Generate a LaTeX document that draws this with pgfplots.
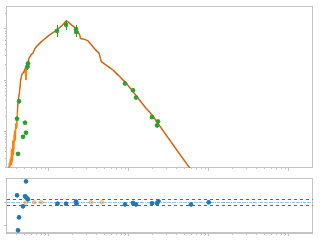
\documentclass[border=0pt]{standalone}
\usepackage{pgfplots}
\pgfplotsset{compat=1.18}
\usepackage{pgfplotstable}
\definecolor{C0}{HTML}{1F77B4}
\definecolor{C1}{HTML}{FF7F0E}
\definecolor{C2}{HTML}{2CA02C}
\definecolor{C5}{HTML}{8C564B}
\definecolor{spine}{HTML}{C4C4C4}

\pgfplotstableread{
lx ly
2.5000 -0.765
2.5100 -0.620
2.5125 -0.700
2.5213 -0.529
2.5250 -0.650
2.5288 -0.608
2.5350 -0.380
2.5413 -0.406
2.5450 -0.560
2.5500 -0.529
2.5538 -0.176
2.5580 -0.450
2.5625 -0.373
2.5690 -0.080
2.5750 0.020
2.5813 -0.176
2.5913 0.157
2.6000 0.059
2.6088 0.378
2.6163 0.543
2.6250 0.667
2.6375 0.804
2.6463 0.961
2.6563 1.059
2.6663 1.118
2.6788 1.137
2.6938 1.177
2.7038 1.216
2.7125 1.098
2.7163 1.000
2.7213 1.255
2.7375 1.314
2.7538 1.426
2.7838 1.504
2.8000 1.520
2.8125 1.555
2.8250 1.608
2.8463 1.653
2.9088 1.751
2.9500 1.804
3.0125 1.882
3.0963 1.971
3.1625 2.059
3.2213 2.157
3.2838 2.078
3.3375 2.014
3.3663 1.941
3.3875 1.882
3.3963 1.814
3.4125 1.804
3.4500 1.794
3.4913 1.765
3.5338 1.686
3.5750 1.608
3.6288 1.524
3.6588 1.359
3.7250 1.284
3.8038 1.196
3.8875 1.069
3.9713 0.935
4.0500 0.784
4.1375 0.608
4.2125 0.461
4.2963 0.314
4.3875 0.108
4.5125 -0.167
4.6375 -0.441
4.7625 -0.712
}\model

\pgfplotstableread{
lx ly
2.6088 0.378
2.6163 0.543
2.6250 0.667
2.6375 0.804
2.6463 0.961
2.6563 1.059
2.6663 1.118
2.6788 1.137
2.6938 1.177
2.7038 1.216
2.7213 1.255
2.7375 1.314
2.7538 1.426
2.7838 1.504
2.8000 1.520
2.8125 1.555
2.8250 1.608
2.8463 1.653
2.9088 1.751
2.9500 1.804
3.0125 1.882
3.0963 1.971
3.1625 2.059
3.2213 2.157
3.2838 2.078
3.3375 2.014
3.3663 1.941
3.3875 1.882
3.3963 1.814
3.4125 1.804
3.4500 1.794
3.4913 1.765
3.5338 1.686
3.5750 1.608
3.6288 1.524
3.6588 1.359
3.7250 1.284
3.8038 1.196
3.8875 1.069
3.9713 0.935
4.0500 0.784
4.1375 0.608
4.2125 0.461
4.2963 0.314
4.3875 0.108
4.5125 -0.167
4.6375 -0.441
4.7625 -0.712
}\smooth

\pgfplotstableread{
lx ly ey
2.6038 0.249 0.03
2.6163 -0.437 0.03
2.6288 0.588 0.03
2.6788 -0.104 0.03
2.7038 0.171 0.03
2.7163 -0.025 0.03
2.7338 1.261 0.06
2.7413 1.327 0.06
3.1038 1.961 0.12
3.2163 2.078 0.10
3.3413 1.994 0.09
3.3463 1.935 0.09
3.9538 0.935 0.02
4.0538 0.804 0.02
4.0913 0.661 0.02
4.2913 0.280 0.02
4.3538 0.118 0.02
4.3663 0.196 0.02
}\obs

\pgfplotstableread{
lx r
2.6038 0.30
2.7163 0.89
2.7038 0.26
2.7213 0.20
2.7413 0.13
2.6788 -0.17
2.6288 -0.64
2.6163 -1.19
3.1088 -0.06
3.2163 -0.06
3.3413 0.03
3.3463 -0.06
3.9538 -0.09
4.0538 -0.03
4.0913 -0.09
4.2913 -0.04
4.3538 -0.04
4.3713 0.04
4.7788 -0.09
5.0000 0.00
}\resid

\pgfplotstableread{
lx r
2.7163 0
2.8163 0
2.9038 0
3.5288 0
3.6663 0
}\lim

\begin{document}
\begin{tikzpicture}
\path[use as bounding box] (0,0) rectangle (320bp,240bp);
\pgfplotsset{
  myax/.style={
    scale only axis, width=306bp,
    xmin=2.475, xmax=6.3,
    axis line style={spine, line width=1.3bp},
    tick align=outside,
    major tick length=3bp, minor tick length=1.6bp,
    tick style={spine, line width=0.8bp},
    xtick pos=left, ytick pos=left,
    xticklabels={}, yticklabels={},
    xtick={3,4,5,6},
    minor xtick={2.602,2.699,2.778,2.845,2.903,2.954,
      3.301,3.477,3.602,3.699,3.778,3.845,3.903,3.954,
      4.301,4.477,4.602,4.699,4.778,4.845,4.903,4.954,
      5.301,5.477,5.602,5.699,5.778,5.845,5.903,5.954},
  }
}
\begin{axis}[myax, at={(6.7bp,72.3bp)}, anchor=south west, height=161bp,
  ymin=-0.706, ymax=2.431,
  ytick={0,1,2},
  minor ytick={-0.699,-0.523,-0.398,-0.301,-0.222,-0.155,-0.097,-0.046,
    0.301,0.477,0.602,0.699,0.778,0.845,0.903,0.954,
    1.301,1.477,1.602,1.699,1.778,1.845,1.903,1.954,2.301},
]
\addplot[C1, line width=1.5bp, no marks] table[x=lx, y=ly] {\model};
\addplot[C5, opacity=0.85, line width=0.45bp, no marks] table[x=lx, y=ly] {\smooth};
\addplot[C2, only marks, mark=*, mark size=2.1bp,
  error bars/.cd, y dir=both, y explicit,
  error bar style={color=C2, line width=0.9bp}, error mark=none]
  table[x=lx, y=ly, y error=ey] {\obs};
\end{axis}
\begin{axis}[myax, at={(6.7bp,7bp)}, anchor=south west, height=54.3bp,
  ymin=-1.306, ymax=1.004,
  ytick={-1,0}, minor ytick={},
]
\addplot[C0, dashed, line width=1bp, no marks] coordinates {(2.475,0.13) (6.3,0.13)};
\addplot[C0, dashed, line width=1bp, no marks] coordinates {(2.475,-0.15) (6.3,-0.15)};
\addplot[C0!45, densely dashdotted, line width=0.9bp, no marks] coordinates {(2.475,0) (6.3,0)};
\addplot[C1, opacity=0.45, only marks, mark=*, mark size=2bp] table[x=lx, y=r] {\lim};
\addplot[C0, only marks, mark=*, mark size=2.1bp] table[x=lx, y=r] {\resid};
\end{axis}
\end{tikzpicture}
\end{document}
